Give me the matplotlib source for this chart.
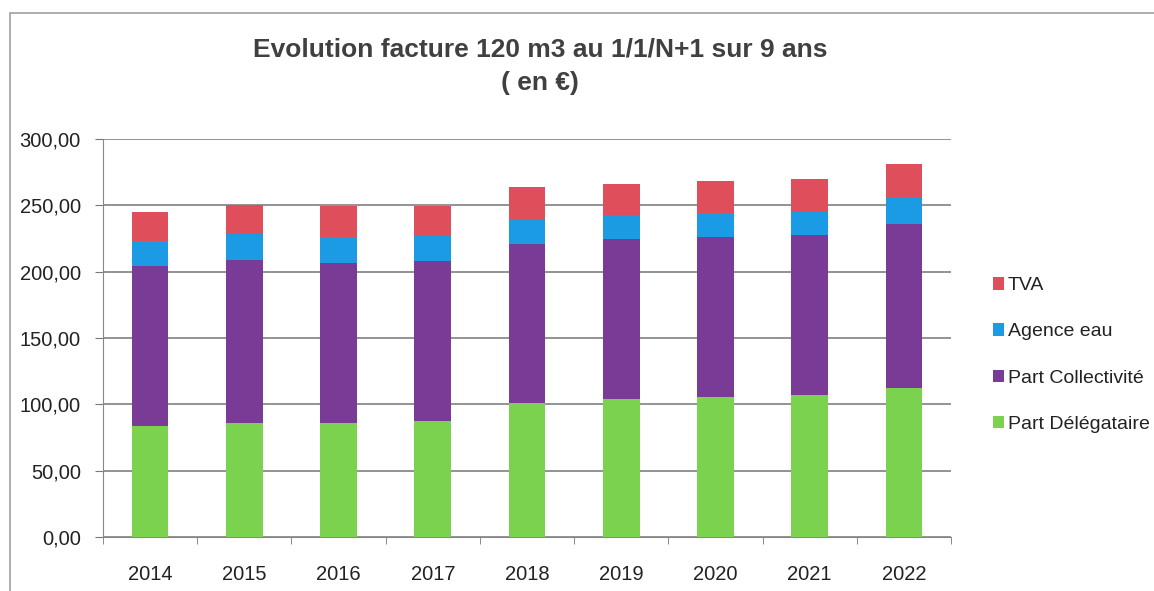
import matplotlib.pyplot as plt
from matplotlib.patches import Rectangle

years = ['2014', '2015', '2016', '2017', '2018', '2019', '2020', '2021', '2022']
part_delegataire = [83.8, 85.8, 85.8, 87.5, 100.8, 103.8, 105.5, 107.0, 112.5]
part_collectivite = [120.5, 123.0, 121.0, 120.8, 120.0, 120.8, 120.8, 120.6, 123.8]
agence_eau = [18.7, 19.5, 19.5, 19.2, 19.2, 18.0, 18.0, 18.2, 19.5]
tva = [22.0, 22.2, 23.0, 22.3, 23.8, 23.7, 24.0, 24.2, 25.0]

plt.rcParams['font.family'] = ['Liberation Sans', 'DejaVu Sans']

fig = plt.figure(figsize=(11.54, 5.91), dpi=100)
ax = fig.add_axes([103 / 1154, 1 - 537 / 591, (951 - 103) / 1154, (537 - 139) / 591])

# cadre du graphique
fig.patches.append(Rectangle((10 / 1154, -0.1), 1.2, 1 - 13 / 591 + 0.1, transform=fig.transFigure,
                             fill=False, edgecolor='#a0a0a0', linewidth=1.2))

x = range(len(years))
w = 0.39
b1 = part_delegataire
b2 = [a + b for a, b in zip(b1, part_collectivite)]
b3 = [a + b for a, b in zip(b2, agence_eau)]

ax.bar(x, part_delegataire, w, color='#7ad24f', label='Part Délégataire', zorder=3)
ax.bar(x, part_collectivite, w, bottom=b1, color='#7a3b97', label='Part Collectivité', zorder=3)
ax.bar(x, agence_eau, w, bottom=b2, color='#1b9be3', label='Agence eau', zorder=3)
ax.bar(x, tva, w, bottom=b3, color='#de4e5b', label='TVA', zorder=3)

ax.set_ylim(0, 300)
ax.set_xlim(-0.5, len(years) - 0.5)
ax.set_yticks(range(0, 301, 50))
ax.set_yticklabels([f'{v},00' for v in range(0, 301, 50)])
ax.set_xticks(list(x))
ax.set_xticklabels(years)
ax.set_xticks([i - 0.5 for i in range(len(years) + 1)], minor=True)
ax.tick_params(axis='x', which='major', length=0, pad=20, labelsize=14.5, colors='#222222')
ax.tick_params(axis='x', which='minor', length=5, direction='out', color='#777777')
ax.tick_params(axis='y', length=6, labelsize=14.5, colors='#222222', pad=10)
ax.tick_params(axis='y', color='#777777')

ax.yaxis.grid(True, color='#8a8a8a', linewidth=1.3, zorder=0)
for s in ['top', 'right']:
    ax.spines[s].set_visible(False)
ax.spines['left'].set_color('#888888')
ax.spines['bottom'].set_color('#888888')

fig.text(540 / 1154, 1 - 66 / 591, 'Evolution facture 120 m3 au 1/1/N+1 sur 9 ans\n( en €)',
         ha='center', va='center', fontsize=19, fontweight='bold', color='#404040', linespacing=1.5)

handles, labels = ax.get_legend_handles_labels()
leg = fig.legend(handles[::-1], labels[::-1], loc='center left', bbox_to_anchor=(975 / 1154, 1 - 355 / 591),
                 frameon=False, fontsize=14, handlelength=0.6, handleheight=0.6, handletextpad=0.2,
                 labelspacing=1.5)
for t in leg.get_texts():
    t.set_color('#222222')

plt.savefig('out.png', dpi=100)
